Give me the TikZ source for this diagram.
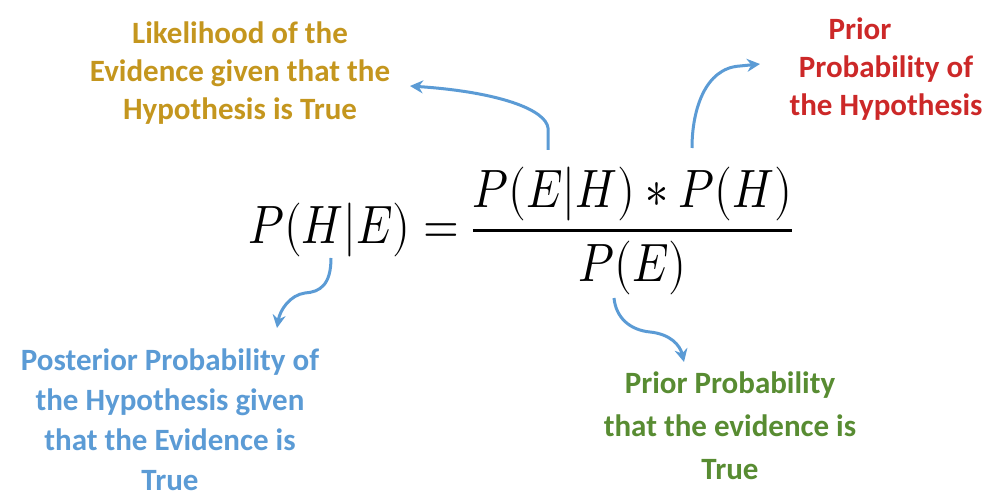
\documentclass[tikz,border=0pt]{standalone}
\usepackage{fontspec}
\usepackage{unicode-math}
\setmainfont{Carlito}
\setmathfont{Latin Modern Math}
\usetikzlibrary{arrows.meta}
\definecolor{goldc}{RGB}{196,150,30}
\definecolor{redc}{RGB}{204,40,40}
\definecolor{bluec}{RGB}{91,155,213}
\definecolor{greenc}{RGB}{88,140,50}
\definecolor{arrowc}{RGB}{91,155,213}
\tikzset{
  lbl/.style={font=\fontsize{31}{38}\selectfont\bfseries, align=center, inner sep=0pt},
  conn/.style={draw=arrowc, line width=3pt, -{Stealth[length=13pt,width=13pt]}},
}
\begin{document}
\begin{tikzpicture}[x=1pt,y=-1pt]
\useasboundingbox (0,0) rectangle (1005,497);
% labels
\node[lbl, text=goldc] (like) at (240,73) {Likelihood of the\\Evidence given that the\\Hypothesis is True};
\node[lbl, text=redc] (prior) at (886,69) {Prior\hspace*{52pt}\\Probability of\\the Hypothesis};
\node[lbl, text=bluec, font=\fontsize{31}{40}\selectfont\bfseries] (post) at (170,420) {Posterior Probability of\\the Hypothesis given\\that the Evidence is\\True};
\node[lbl, text=greenc, font=\fontsize{31}{43}\selectfont\bfseries] (evid) at (730,426) {Prior Probability\\that the evidence is\\True};
% equation
\node[anchor=base west, inner sep=0pt, font=\fontsize{54}{60}\selectfont] (eq) at (248,244)
  {\scalebox{0.85}[1]{$\displaystyle P(H|E)=\frac{P(E|H)*P(H)}{P(E)}$}};
% connector end points
\coordinate (a1s) at (548,150);
\coordinate (a1e) at (410,86);
\coordinate (a2s) at (692,148);
\coordinate (a2e) at (760,64);
\coordinate (a3s) at (331,258);
\coordinate (a3e) at (277,328);
\coordinate (a4s) at (614,298);
\coordinate (a4e) at (684,362);
\draw[conn] (a1s) -- (548,128) .. controls (546,110) and (500,92) .. (a1e);
\draw[conn] (a2s) .. controls (692,110) and (705,68) .. (740,66) -- (a2e);
\draw[conn] (a3s) .. controls (331,285) and (320,292) .. (305,293) .. controls (290,295) and (280,310) .. (a3e);
\draw[conn] (a4s) .. controls (616,318) and (630,330) .. (650,332) .. controls (670,334) and (680,345) .. (a4e);
\end{tikzpicture}
\end{document}
